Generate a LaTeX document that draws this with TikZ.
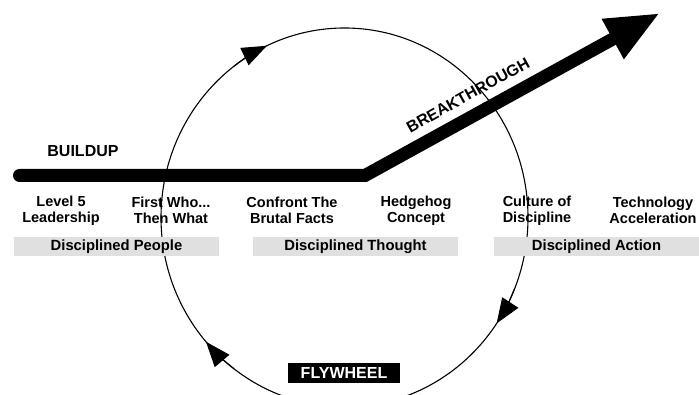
\documentclass[tikz,border=0pt]{standalone}
\usepackage{fontspec}
\setmainfont{Liberation Sans}
\usetikzlibrary{arrows.meta}
\definecolor{barfill}{HTML}{E0E0E0}
\begin{document}
\begin{tikzpicture}[x=1pt,y=1pt,
  lbl/.style={font=\fontsize{14.5}{16}\selectfont\bfseries, align=center, inner sep=0pt},
  bar/.style={fill=barfill, minimum width=205pt, minimum height=19pt, inner sep=0pt,
              font=\fontsize{14.8}{16}\selectfont\bfseries},
  wheel/.style={line width=1.1pt},
  wheelarrow/.style={wheel, -{Triangle[length=25pt,width=19pt]}},
  bigline/.style={line width=13pt, line cap=round, line join=miter,
                  -{Triangle[length=54pt,width=42pt]}},
  title/.style={font=\fontsize{16}{18}\selectfont\bfseries}]
\useasboundingbox (0,0) rectangle (699,395);
\clip (0,0) rectangle (699,395);

% flywheel circle
\coordinate (wc) at (344.5,177.5);
\draw[wheel] (wc) ellipse [x radius=183.5, y radius=189.5];
\draw[wheelarrow] (wc) ++(127:183.5 and 189.5) arc[start angle=127, end angle=115, x radius=183.5, y radius=189.5];
\draw[wheelarrow] (wc) ++(-22:183.5 and 189.5) arc[start angle=-22, end angle=-34, x radius=183.5, y radius=189.5];
\draw[wheelarrow] (wc) ++(233:183.5 and 189.5) arc[start angle=233, end angle=221, x radius=183.5, y radius=189.5];

% bars
\node[bar] (pb) at (116.5,148.5) {Disciplined People};
\node[bar] (tb) at (355.5,148.5) {Disciplined Thought};
\node[bar] (ab) at (596.5,148.5) {Disciplined Action};

% labels
\node[lbl] (l5) at (61,184.5) {Level 5\\Leadership};
\node[lbl] (fw1) at (171,184.5) {First Who...\\Then What};
\node[lbl] (cb) at (292,184.5) {Confront The\\Brutal Facts};
\node[lbl] (hc) at (416,184.5) {Hedgehog\\Concept};
\node[lbl] (cd) at (537,184.5) {Culture of\\Discipline};
\node[lbl] (ta) at (653,184.5) {Technology\\Acceleration};

% buildup / breakthrough line
\coordinate (ls) at (19.5,219.5);
\coordinate (lc) at (365,219.5);
\coordinate (lt) at (660,382);
\draw[bigline] (ls) -- (lc) -- (lt);

\node[title] (bu) at (83,244) {BUILDUP};
\node[title, rotate=29] (bt) at (468,300) {BREAKTHROUGH};

% flywheel label
\node[title, fill=black, text=white, minimum width=112pt, minimum height=20pt, inner sep=0pt] (fw) at (344,22) {FLYWHEEL};
\end{tikzpicture}
\end{document}
